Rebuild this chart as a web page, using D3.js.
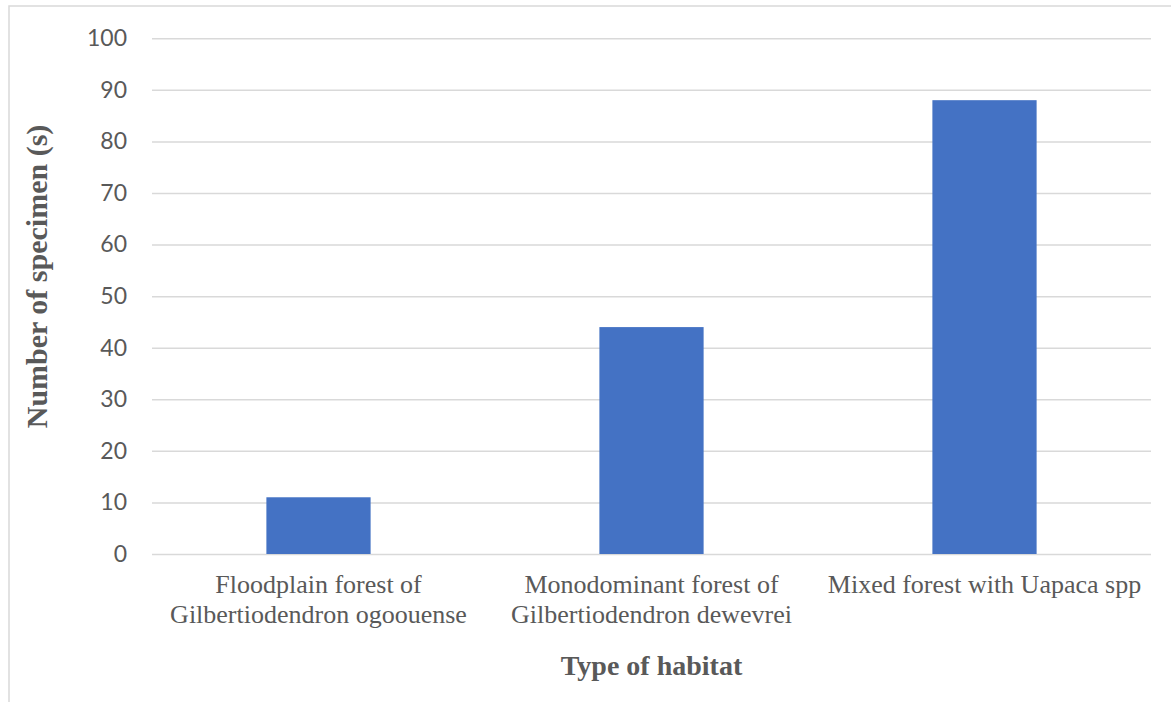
<!DOCTYPE html>
<html>
<head>
<meta charset="utf-8">
<script src="https://cdn.jsdelivr.net/npm/d3@7"></script>
<style>
  html, body { margin: 0; padding: 0; background: #fff; }
  svg { display: block; }
</style>
</head>
<body>
<svg id="chart" width="1171" height="702"></svg>
<script>
// Specimen counts per habitat type
const categories = [
  ["Floodplain forest of", "Gilbertiodendron ogoouense"],
  ["Monodominant forest of", "Gilbertiodendron dewevrei"],
  ["Mixed forest with Uapaca spp"]
];
const categoryKeys = ["floodplain", "monodominant", "mixed"];
const specimens = [11, 44, 88];
const yTicks = [0, 10, 20, 30, 40, 50, 60, 70, 80, 90, 100];
const yTitle = "Number of specimen (s)";
const xTitle = "Type of habitat";

const W = 1171, H = 702;
const plot = { left: 152, right: 1151, top: 38.3, bottom: 554 };
const svg = d3.select("#chart");

// Light frame around the chart area
svg.append("rect")
  .attr("x", 9).attr("y", 6)
  .attr("width", W + 20).attr("height", H + 20)
  .attr("fill", "none")
  .attr("stroke", "#d9d9d9")
  .attr("stroke-width", 1.5);

const x = d3.scaleBand()
  .domain(categoryKeys)
  .range([plot.left, plot.right])
  .paddingInner(0.687)
  .paddingOuter(0.3435);

const y = d3.scaleLinear()
  .domain([0, 100])
  .range([plot.bottom, plot.top]);

// Horizontal gridlines with value labels
const yAxis = d3.axisLeft(y)
  .tickValues(yTicks)
  .tickSize(-(plot.right - plot.left))
  .tickPadding(25)
  .tickFormat(d3.format("d"));

const gy = svg.append("g")
  .attr("transform", `translate(${plot.left},0)`)
  .call(yAxis);
gy.select(".domain").remove();
gy.selectAll(".tick line")
  .attr("stroke", "#d9d9d9")
  .attr("stroke-width", 1.5);
gy.selectAll(".tick text")
  .attr("fill", "#595959")
  .style("font-family", "Lato, 'Open Sans', sans-serif")
  .style("font-size", "23px");

// Bars
svg.append("g")
  .selectAll("rect")
  .data(specimens)
  .join("rect")
  .attr("x", (d, i) => x(categoryKeys[i]))
  .attr("width", x.bandwidth())
  .attr("y", d => y(d))
  .attr("height", d => y(0) - y(d))
  .attr("fill", "#4472c4");

// Category labels (one or two lines each)
const catG = svg.append("g")
  .style("font-family", "'Liberation Serif', 'Times New Roman', serif")
  .style("font-size", "26px")
  .attr("fill", "#595959")
  .attr("text-anchor", "middle");

categories.forEach((lines, i) => {
  const cx = x(categoryKeys[i]) + x.bandwidth() / 2;
  const t = catG.append("text")
    .attr("x", cx)
    .attr("y", 593);
  lines.forEach((ln, j) => {
    t.append("tspan")
      .attr("x", cx)
      .attr("dy", j === 0 ? 0 : 30)
      .text(ln);
  });
});

// Axis titles
svg.append("text")
  .attr("x", (plot.left + plot.right) / 2)
  .attr("y", 675)
  .attr("text-anchor", "middle")
  .attr("fill", "#595959")
  .style("font-family", "'Liberation Serif', 'Times New Roman', serif")
  .style("font-weight", "bold")
  .style("font-size", "28px")
  .text(xTitle);

svg.append("text")
  .attr("transform", `translate(47,${(120 + 433) / 2}) rotate(-90)`)
  .attr("text-anchor", "middle")
  .attr("fill", "#595959")
  .style("font-family", "'Liberation Serif', 'Times New Roman', serif")
  .style("font-weight", "bold")
  .style("font-size", "30px")
  .text(yTitle);
</script>
</body>
</html>
